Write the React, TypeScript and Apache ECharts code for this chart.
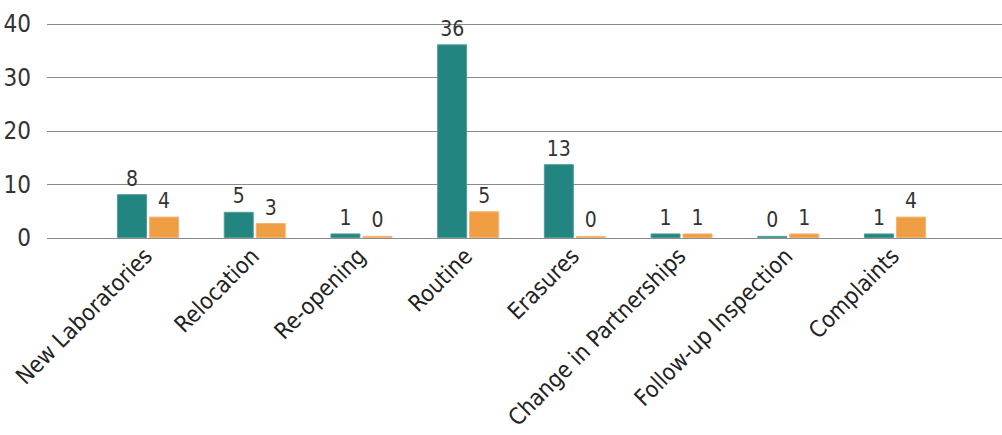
import React, { useEffect, useRef } from "react";
import * as echarts from "echarts";

const categories = [
  "New Laboratories",
  "Relocation",
  "Re-opening",
  "Routine",
  "Erasures",
  "Change in Partnerships",
  "Follow-up Inspection",
  "Complaints",
];
// bar heights as drawn
const tealValues = [8.2, 4.9, 0.85, 36.2, 13.8, 0.85, 0.4, 0.85];
const orangeValues = [4.0, 2.8, 0.4, 5.0, 0.4, 0.85, 0.85, 4.0];
// printed labels
const tealLabels = ["8", "5", "1", "36", "13", "1", "0", "1"];
const orangeLabels = ["4", "3", "0", "5", "0", "1", "1", "4"];
const yTicks = [0, 10, 20, 30, 40];

const FONT = "'DejaVu Sans Condensed', 'Liberation Sans Narrow', sans-serif";

export default function App() {
  const ref = useRef<HTMLDivElement>(null);
  useEffect(() => {
    const chart = echarts.init(ref.current!, null, { renderer: "svg" });
    const labelStyle = { show: true, position: "top", distance: 5, color: "#333", fontSize: 21, fontFamily: FONT };
    chart.setOption({
      animation: false,
      grid: [
        { left: 47, right: 0, top: 24, bottom: 197 },
        { left: 94.7, right: 53.7, top: 24, bottom: 197 },
      ],
      xAxis: [
        { type: "category", gridIndex: 0, data: [""], show: false },
        {
          type: "category",
          gridIndex: 1,
          data: categories,
          axisLine: { show: false },
          axisTick: { show: false },
          axisLabel: {
            rotate: 45,
            interval: 0,
            margin: 14,
            color: "#222",
            fontSize: 23,
            fontFamily: FONT,
          },
        },
      ],
      yAxis: [
        {
          type: "value",
          gridIndex: 0,
          min: yTicks[0],
          max: yTicks[yTicks.length - 1],
          interval: 10,
          axisLine: { show: false },
          axisTick: { show: false },
          axisLabel: { color: "#333", fontSize: 24, fontFamily: FONT, margin: 16 },
          splitLine: { lineStyle: { color: "#8a8a8a", width: 1 } },
        },
        {
          type: "value",
          gridIndex: 1,
          min: 0,
          max: 40,
          interval: 10,
          show: false,
          splitLine: { show: false },
        },
      ],
      series: [
        {
          type: "bar",
          xAxisIndex: 1,
          yAxisIndex: 1,
          data: tealValues,
          barWidth: 30,
          barGap: "6.7%",
          itemStyle: { color: "#22857f", borderColor: "#4f9e99", borderWidth: 1 },
          label: { ...labelStyle, formatter: (p: any) => tealLabels[p.dataIndex] },
        },
        {
          type: "bar",
          xAxisIndex: 1,
          yAxisIndex: 1,
          data: orangeValues,
          barWidth: 30,
          barGap: "6.7%",
          itemStyle: { color: "#f09e44", borderColor: "#f4b371", borderWidth: 1 },
          label: { ...labelStyle, formatter: (p: any) => orangeLabels[p.dataIndex] },
        },
      ],
    });
    return () => chart.dispose();
  }, []);
  return <div ref={ref} style={{ width: 1002, height: 435, position: "absolute", left: 0, top: 0 }} />;
}
